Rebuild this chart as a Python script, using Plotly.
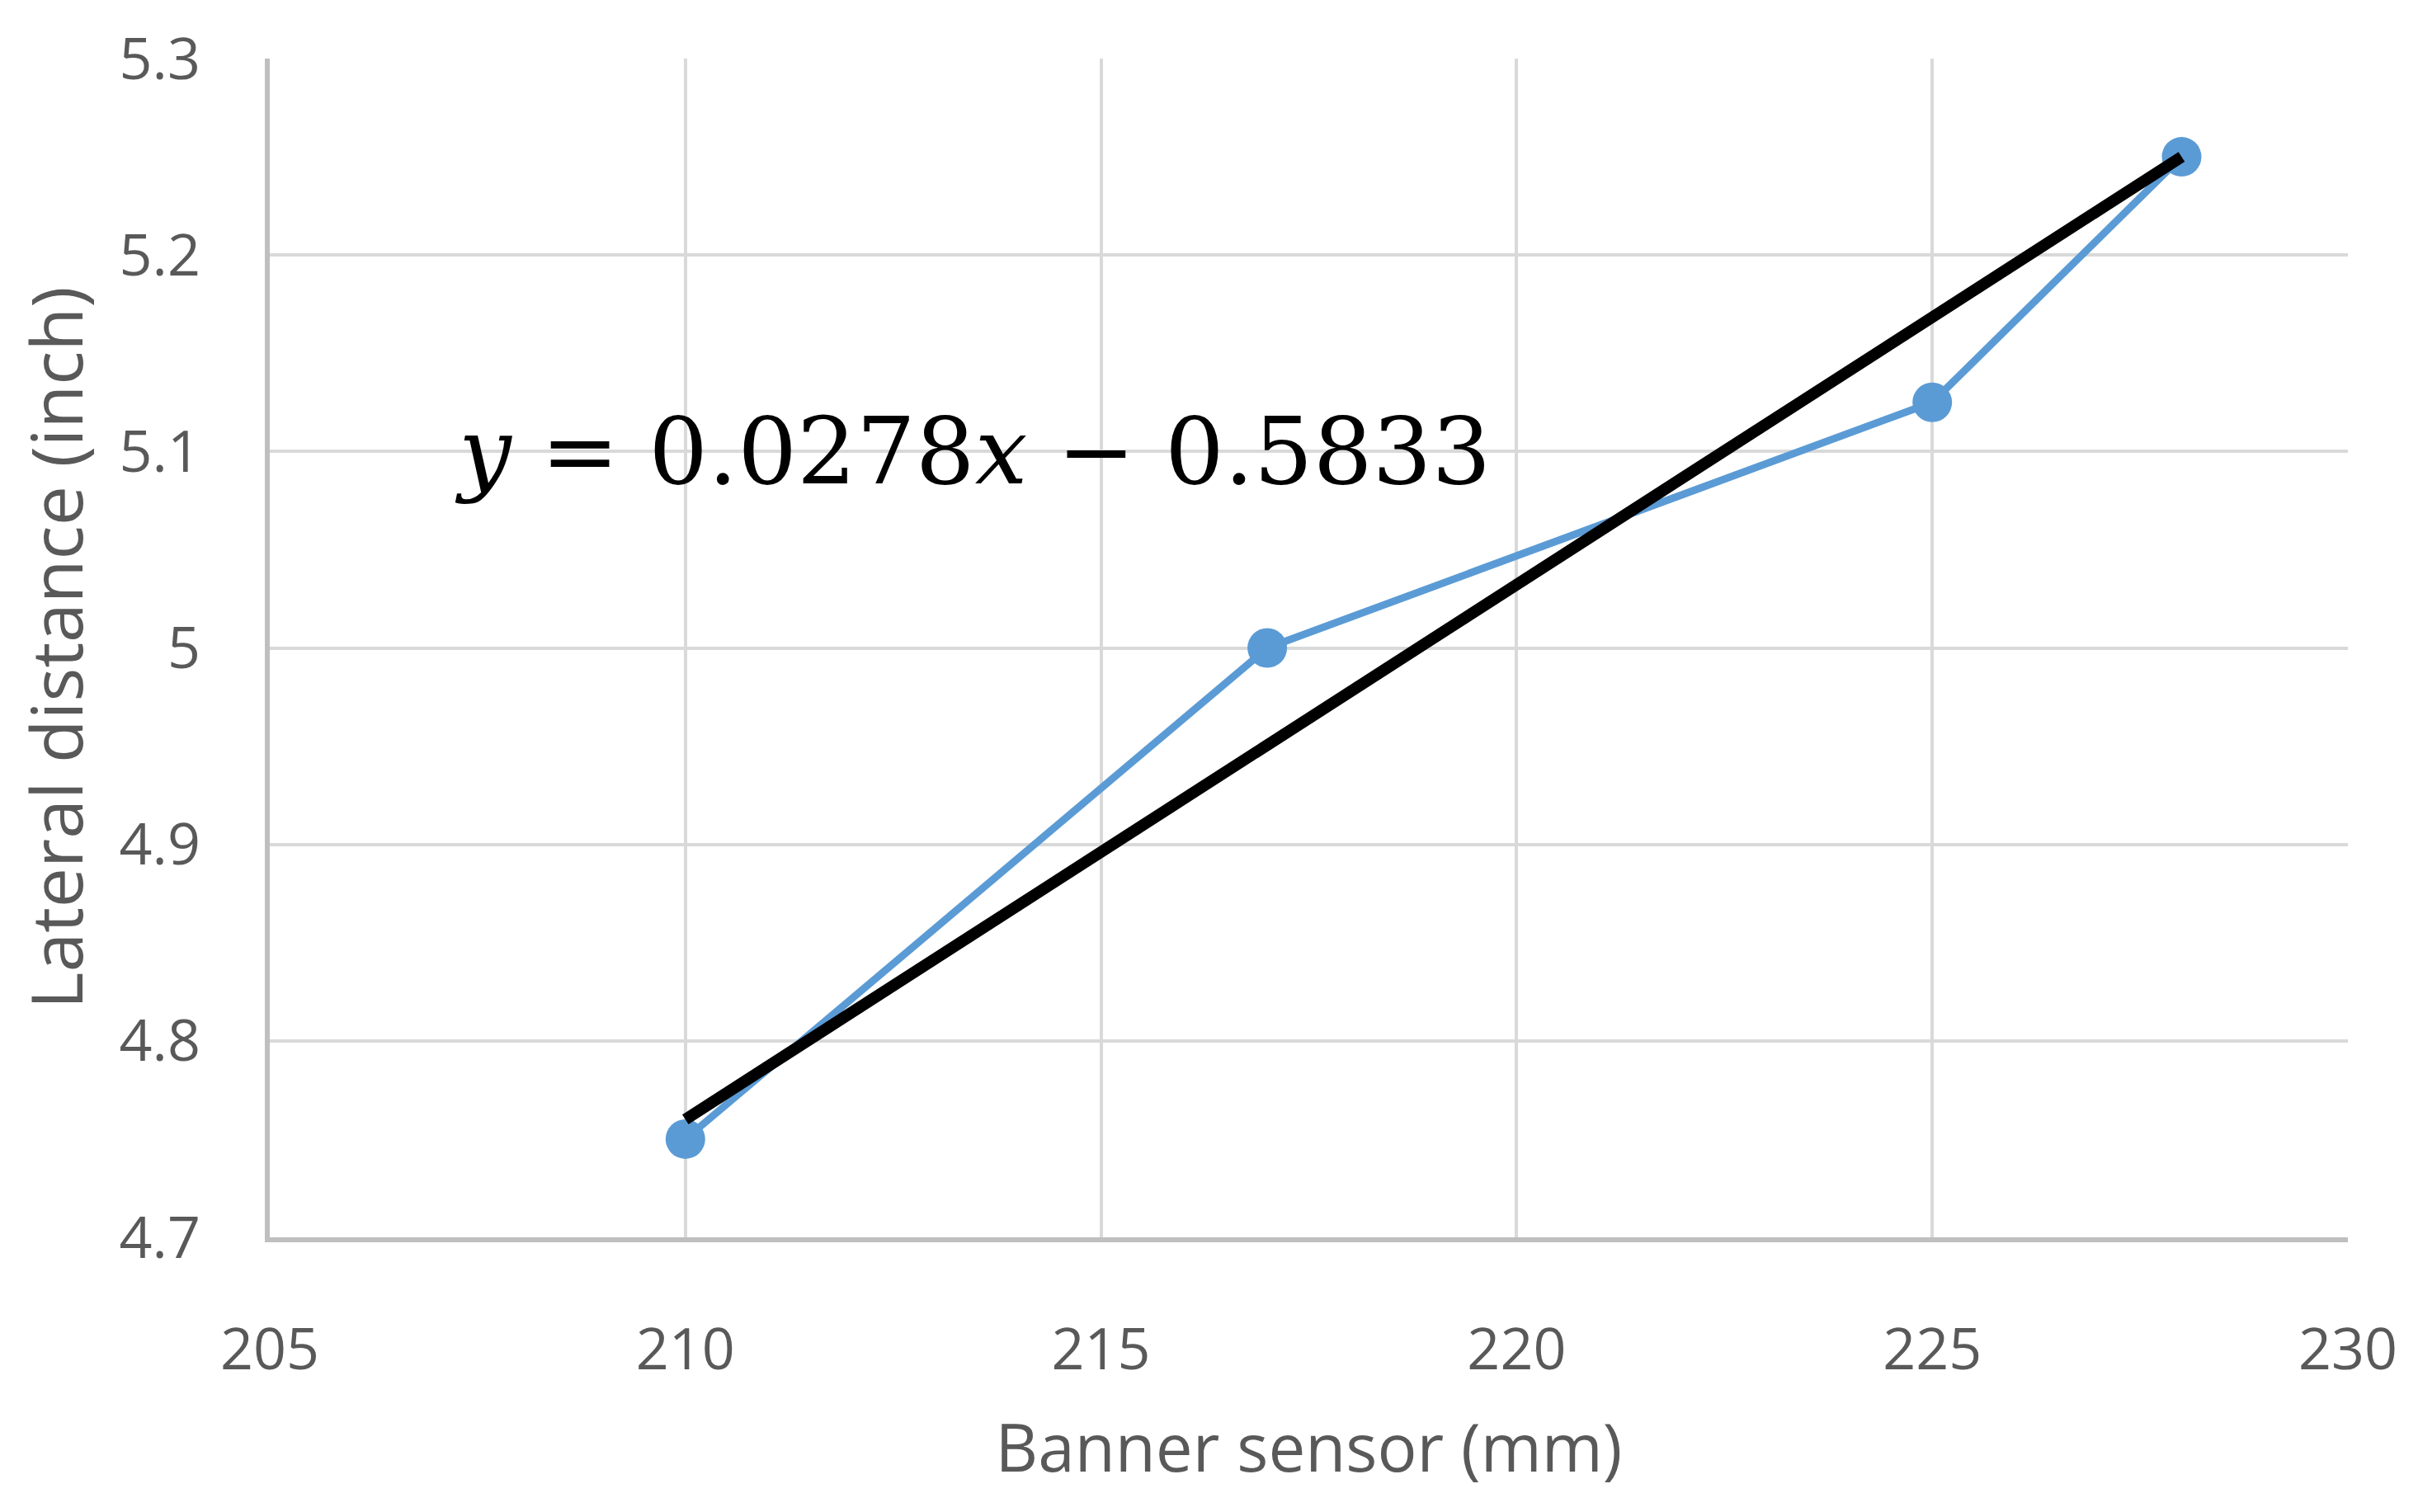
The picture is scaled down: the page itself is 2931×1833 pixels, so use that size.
import plotly.graph_objects as go

# Data
sensor_mm = [210, 217, 225, 228]
lateral_in = [4.75, 5.0, 5.125, 5.25]

trend_x = [210, 228]
trend_y = [4.76, 5.25]

x_ticks = [205, 210, 215, 220, 225, 230]
y_ticks = [4.7, 4.8, 4.9, 5.0, 5.1, 5.2, 5.3]
y_tick_text = ["4.7", "4.8", "4.9", "5", "5.1", "5.2", "5.3"]

equation = "<i>y</i> = 0.0278<i>x</i> − 0.5833"

fig = go.Figure()
fig.add_trace(go.Scatter(
    x=sensor_mm, y=lateral_in, mode="lines+markers",
    line=dict(color="#5B9BD5", width=9),
    marker=dict(color="#5B9BD5", size=48),
    showlegend=False,
))
fig.add_trace(go.Scatter(
    x=trend_x, y=trend_y, mode="lines",
    line=dict(color="#000000", width=14),
    showlegend=False,
))

fig.add_annotation(
    x=0.088, y=5.1, xref="paper", yref="y", xanchor="left", yanchor="middle",
    text=equation, showarrow=False,
    font=dict(family="DejaVu Serif", size=113, color="#000000"),
)

font_main = "Open Sans"
fig.update_layout(
    width=2931, height=1833,
    margin=dict(l=319, r=93, t=53, b=341),
    paper_bgcolor="white", plot_bgcolor="white",
    font=dict(family=font_main, color="#595959"),
    xaxis=dict(
        range=[205, 230], tickvals=x_ticks, ticktext=[str(v) for v in x_ticks],
        showgrid=True, gridcolor="#D9D9D9", gridwidth=4,
        showline=True, linecolor="#BFBFBF", linewidth=6, mirror=False,
        zeroline=False, ticks="", ticklabelstandoff=70,
        tickfont=dict(size=70, color="#595959", family=font_main),
        title=dict(text="Banner sensor (mm)", standoff=50,
                   font=dict(size=80, color="#595959", family=font_main)),
    ),
    yaxis=dict(
        range=[4.7, 5.3], tickvals=y_ticks, ticktext=y_tick_text,
        showgrid=True, gridcolor="#D9D9D9", gridwidth=4,
        showline=True, linecolor="#BFBFBF", linewidth=6, mirror=False,
        zeroline=False, ticks="", ticklabelstandoff=64,
        tickfont=dict(size=70, color="#595959", family=font_main),
        title=dict(text="Lateral distance (inch)", standoff=56,
                   font=dict(size=86, color="#595959", family=font_main)),
    ),
)

fig.write_html("out.html")
